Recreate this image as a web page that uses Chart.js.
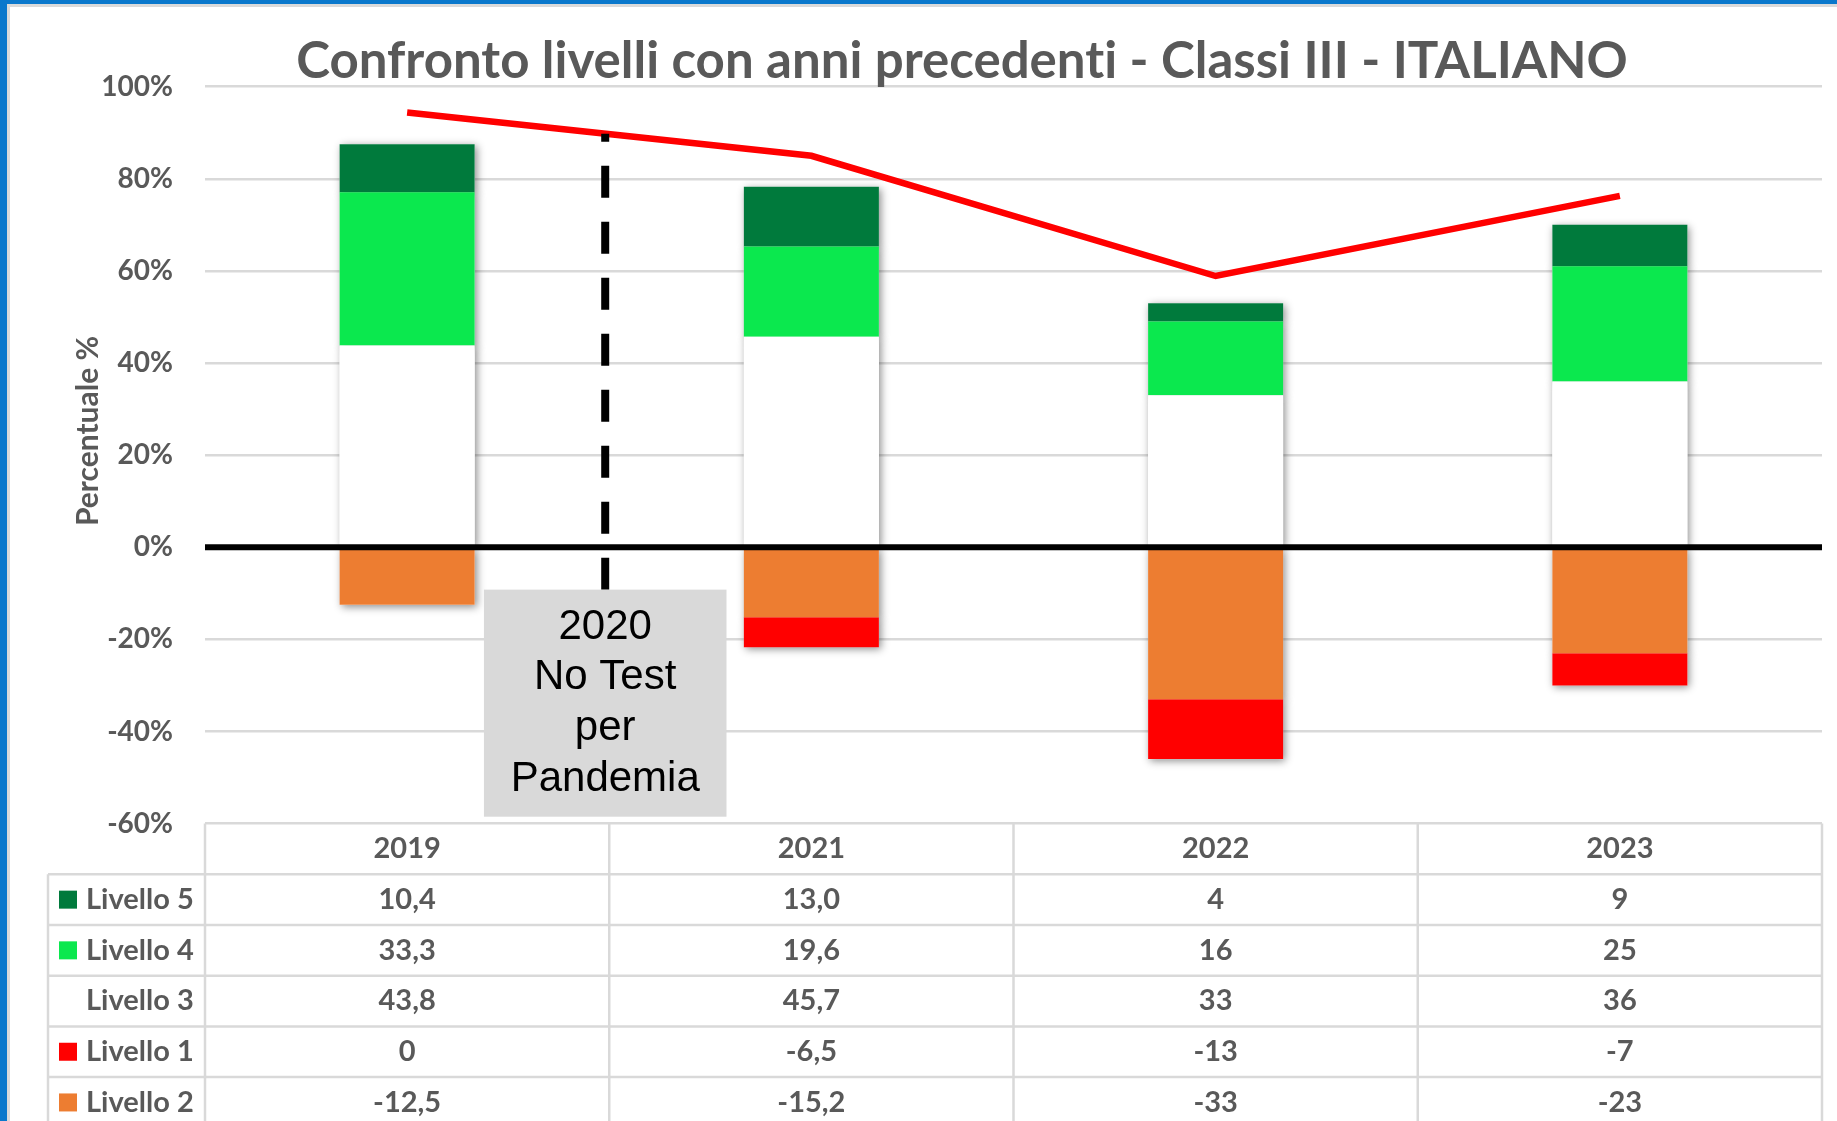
<!DOCTYPE html>
<html lang="it">
<head>
<meta charset="UTF-8">
<meta name="viewport" content="width=device-width, initial-scale=1.0">
<title>Confronto livelli con anni precedenti - Classi III - ITALIANO</title>
<script src="https://cdn.jsdelivr.net/npm/chart.js"></script>
<style>
    html, body { margin: 0; padding: 0; background: #fff; }
    #wrap { position: relative; width: 1837px; height: 1121px; }
</style>
</head>
<body>
<div id="wrap"><canvas id="grafico"></canvas></div>
<script>
    // dati INVALSI per anno (percentuali)
    const anni = ['2019', '2021', '2022', '2023'];
    const decimali = [1, 1, 0, 0]; // cifre decimali mostrate in tabella per ogni anno
    const livello5 = [10.4, 13.0, 4, 9];
    const livello4 = [33.3, 19.6, 16, 25];
    const livello3 = [43.8, 45.7, 33, 36];
    const livello1 = [0, -6.5, -13, -7];
    const livello2 = [-12.5, -15.2, -33, -23];
    const andamento = [94.4, 85.0, 58.9, 76.3]; // linea rossa
    const yTicks = [-60, -40, -20, 0, 20, 40, 60, 80, 100];

    const GRIGIO = '#595959';
    const FONT = 'Lato';
    const colori = {
        l5: '#007A3C',
        l4: '#0BE84E',
        l3: '#FFFFFF',
        l1: '#FF0000',
        l2: '#ED7D31'
    };

    // righe della tabella dati sotto il grafico
    const righe = [
        { nome: 'Livello 5', valori: livello5, colore: colori.l5 },
        { nome: 'Livello 4', valori: livello4, colore: colori.l4 },
        { nome: 'Livello 3', valori: livello3, colore: null },
        { nome: 'Livello 1', valori: livello1, colore: colori.l1 },
        { nome: 'Livello 2', valori: livello2, colore: colori.l2 }
    ];

    function formatta(v, d) {
        if (v === 0) return '0';
        return v.toFixed(d).replace('.', ',');
    }

    const ALTEZZA_RIGA = 50.7;

    // sfondo e cornice blu
    const cornice = {
        id: 'cornice',
        beforeDraw(chart) {
            const { ctx, width, height } = chart;
            ctx.save();
            ctx.fillStyle = '#fff';
            ctx.fillRect(0, 0, width, height);
            ctx.fillStyle = '#0A78CC';
            ctx.fillRect(0, 0, 7, height);
            ctx.fillRect(0, 0, width, 4);
            ctx.fillStyle = '#DADADA';
            ctx.fillRect(7, 4, 3, height);
            ctx.fillRect(7, 4, width, 3);
            ctx.restore();
        }
    };

    // ombra esterna delle colonne, disegnata sotto le barre
    const ombraBarre = {
        id: 'ombraBarre',
        beforeDatasetsDraw(chart) {
            const ctx = chart.ctx;
            ctx.save();
            ctx.shadowColor = 'rgba(0,0,0,0.45)';
            ctx.shadowBlur = 8;
            ctx.shadowOffsetX = 2;
            ctx.shadowOffsetY = 2;
            ctx.fillStyle = '#fff';
            chart.data.datasets.forEach((ds, i) => {
                const meta = chart.getDatasetMeta(i);
                if (meta.type !== 'bar') return;
                meta.data.forEach(bar => {
                    const { x, y, base, width } = bar.getProps(['x', 'y', 'base', 'width'], true);
                    if (Math.abs(base - y) < 0.5) return;
                    ctx.fillRect(x - width / 2, Math.min(y, base), width, Math.abs(base - y));
                });
            });
            ctx.restore();
        }
    };

    // asse dello zero, linea tratteggiata e riquadro del 2020
    const annotazioni = {
        id: 'annotazioni',
        afterDatasetsDraw(chart) {
            const { ctx, chartArea, scales: { x, y } } = chart;
            ctx.save();

            const y0 = y.getPixelForValue(0);
            ctx.strokeStyle = '#000';
            ctx.lineWidth = 6;
            ctx.beginPath();
            ctx.moveTo(chartArea.left, y0);
            ctx.lineTo(chartArea.right, y0);
            ctx.stroke();

            const colW = chartArea.width / anni.length;
            const xm = x.getPixelForValue(0.49);
            const boxTop = y.getPixelForValue(-9.2);
            const boxBottom = y.getPixelForValue(-58.5);

            ctx.setLineDash([32, 24]);
            ctx.lineWidth = 8;
            ctx.beginPath();
            ctx.moveTo(xm, boxTop);
            ctx.lineTo(xm, y.getPixelForValue(89.8));
            ctx.stroke();
            ctx.setLineDash([]);

            ctx.fillStyle = '#D9D9D9';
            ctx.fillRect(xm - 0.3 * colW, boxTop, 0.6 * colW, boxBottom - boxTop);

            const testo = ['2020', 'No Test', 'per', 'Pandemia'];
            ctx.fillStyle = '#000';
            ctx.font = '42px "Liberation Sans", Arial, sans-serif';
            ctx.textAlign = 'center';
            ctx.textBaseline = 'middle';
            const cy = (boxTop + boxBottom) / 2;
            testo.forEach((t, i) => {
                ctx.fillText(t, xm, cy + (i - 1.5) * ALTEZZA_RIGA);
            });
            ctx.restore();
        },
        afterDraw(chart) {
            const { ctx, chartArea, scales: { x, y }, height } = chart;
            const colW = chartArea.width / anni.length;
            const top = y.getPixelForValue(-60);
            const legSx = 48;
            ctx.save();

            // titolo (ZWNJ per evitare la legatura "ti" di Lato)
            ctx.fillStyle = GRIGIO;
            ctx.font = `bold 51px ${FONT}`;
            ctx.textAlign = 'center';
            ctx.textBaseline = 'middle';
            ctx.fillText('Confronto livelli con anni precedent\u200Ci - Classi III - ITALIANO', 962, 62);

            // titolo asse verticale
            ctx.save();
            ctx.translate(88, 431);
            ctx.rotate(-Math.PI / 2);
            ctx.font = `bold 30px ${FONT}`;
            ctx.fillText('Percentuale %', 0, 0);
            ctx.restore();

            // griglia tabella
            ctx.strokeStyle = '#D9D9D9';
            ctx.lineWidth = 2.5;
            ctx.beginPath();
            for (let k = 0; k <= anni.length; k++) {
                const xv = chartArea.left + k * colW;
                ctx.moveTo(xv, top);
                ctx.lineTo(xv, height);
            }
            ctx.moveTo(legSx, top + ALTEZZA_RIGA);
            ctx.lineTo(legSx, height);
            for (let r = 1; r <= righe.length; r++) {
                const yv = top + r * ALTEZZA_RIGA;
                ctx.moveTo(legSx, yv);
                ctx.lineTo(chartArea.right, yv);
            }
            ctx.stroke();

            ctx.font = `bold 29px ${FONT}`;
            ctx.fillStyle = GRIGIO;
            ctx.textBaseline = 'middle';
            ctx.textAlign = 'center';
            anni.forEach((a, i) => {
                ctx.fillText(a, x.getPixelForValue(i), top + ALTEZZA_RIGA / 2);
            });

            righe.forEach((riga, r) => {
                const cy = top + ALTEZZA_RIGA * (r + 1.5);
                if (riga.colore) {
                    ctx.fillStyle = riga.colore;
                    ctx.fillRect(59, cy - 9, 18, 18);
                }
                ctx.fillStyle = GRIGIO;
                ctx.textAlign = 'left';
                ctx.fillText(riga.nome, 86, cy);
                ctx.textAlign = 'center';
                riga.valori.forEach((v, i) => {
                    ctx.fillText(formatta(v, decimali[i]), x.getPixelForValue(i), cy);
                });
            });
            ctx.restore();
        }
    };

    const PAD_SX = 10;
    const barra = (label, data, colore) => ({
        label: label,
        data: data,
        backgroundColor: colore,
        borderWidth: 0,
        stack: 'livelli',
        barPercentage: 0.668,
        categoryPercentage: 0.5
    });

    new Chart(document.getElementById('grafico'), {
        type: 'bar',
        data: {
            labels: anni,
            datasets: [
                barra('Livello 3', livello3, colori.l3),
                barra('Livello 4', livello4, colori.l4),
                barra('Livello 5', livello5, colori.l5),
                barra('Livello 2', livello2, colori.l2),
                barra('Livello 1', livello1, colori.l1),
                {
                    type: 'line',
                    label: 'Andamento',
                    data: andamento,
                    borderColor: '#FF0000',
                    borderWidth: 6.5,
                    pointRadius: 0,
                    tension: 0,
                    fill: false,
                    stack: 'linea',
                    order: -1
                }
            ]
        },
        options: {
            responsive: true,
            maintainAspectRatio: false,
            animation: false,
            layout: { padding: { top: 86.7, left: PAD_SX, right: 15, bottom: 297.4 } },
            plugins: {
                legend: { display: false },
                title: { display: false },
                tooltip: { enabled: false }
            },
            scales: {
                x: {
                    display: false,
                    stacked: true
                },
                y: {
                    stacked: true,
                    min: -60,
                    max: 100,
                    afterBuildTicks(scale) {
                        scale.ticks = yTicks.map(v => ({ value: v }));
                    },
                    afterFit(scale) {
                        scale.width = 205 - PAD_SX;
                    },
                    ticks: {
                        callback: v => v + '%',
                        color: GRIGIO,
                        padding: 32,
                        font: { family: FONT, weight: 'bold', size: 28 }
                    },
                    grid: { color: '#D9D9D9', lineWidth: 2.5, drawTicks: false },
                    border: { display: false }
                }
            }
        },
        plugins: [cornice, ombraBarre, annotazioni]
    });
</script>
</body>
</html>
